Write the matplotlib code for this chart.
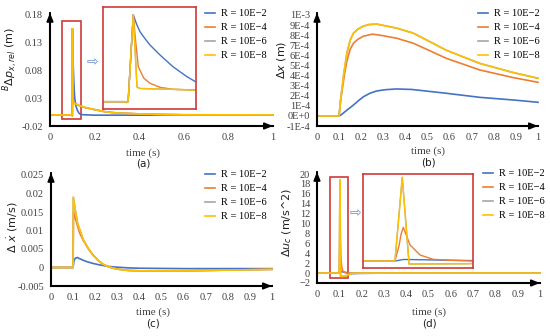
import matplotlib
matplotlib.use('Agg')
import matplotlib.pyplot as plt
from matplotlib.patches import Rectangle
from matplotlib.lines import Line2D

W, H = 550, 336
labels = ['R = 10E\u22122', 'R = 10E\u22124', 'R = 10E\u22126', 'R = 10E\u22128']
colors = ['#4472C4', '#ED7D31', '#A5A5A5', '#FFC000']
serif = 'Liberation Serif'

# (a) relative position, m
ta_blue = [0, 0.0995, 0.09976, 0.1, 0.10076, 0.10125, 0.10175, 0.1025, 0.10322, 0.1047, 0.10661, 0.10867, 0.11,
           0.112, 0.117, 0.123, 0.13, 0.14, 0.2, 1]
a_blue = [0, 0, -0.0015, 0, 0.155, 0.138, 0.1246, 0.112, 0.1009, 0.0831, 0.0622, 0.0444, 0.035,
          0.027, 0.015, 0.008, 0.003, 0.0005, -0.0005, -0.0005]
ta_orange = [0, 0.0995, 0.09976, 0.1, 0.10076, 0.10109, 0.1015, 0.1023, 0.10322, 0.1047, 0.10661, 0.11,
             0.12, 0.13, 0.16, 0.2, 0.25, 0.3, 0.4, 0.5, 0.6, 1]
a_orange = [0, 0, -0.0015, 0, 0.155, 0.1098, 0.0622, 0.042, 0.0327, 0.0255, 0.022, 0.0207,
            0.019, 0.017, 0.013, 0.0095, 0.0055, 0.0035, 0.0018, 0.0008, 0.0002, 0]
ta_yellow = [0, 0.0995, 0.09976, 0.1, 0.10076, 0.10131, 0.10175, 0.1047, 0.11,
             0.12, 0.13, 0.16, 0.2, 0.25, 0.3, 0.4, 0.5, 0.6, 1]
a_yellow = [0, 0, -0.0015, 0, 0.155, 0.0261, 0.0234, 0.0225, 0.0207,
            0.019, 0.017, 0.013, 0.0095, 0.0055, 0.0035, 0.0018, 0.0008, 0.0002, 0]
ta_gray, a_gray = ta_yellow, a_yellow

# (b) displacement, m
tb_blue = [0, 0.1, 0.11, 0.12, 0.14, 0.165, 0.19, 0.21, 0.24, 0.27, 0.31, 0.36, 0.43, 0.586, 0.737, 0.887, 1]
b_blue = [0, 0, 0.12e-4, 0.3e-4, 0.65e-4, 1.08e-4, 1.55e-4, 1.9e-4, 2.25e-4, 2.47e-4, 2.6e-4, 2.67e-4, 2.62e-4,
          2.24e-4, 1.84e-4, 1.58e-4, 1.35e-4]
tb_orange = [0, 0.1, 0.105, 0.11, 0.115, 0.125, 0.135, 0.15, 0.165, 0.185, 0.21, 0.25, 0.285, 0.36, 0.436,
             0.586, 0.737, 0.887, 1]
b_orange = [0, 0, 1.1e-4, 2.0e-4, 2.7e-4, 4.2e-4, 5.4e-4, 6.6e-4, 7.2e-4, 7.6e-4, 7.9e-4, 8.1e-4, 8.0e-4,
            7.7e-4, 7.2e-4, 5.7e-4, 4.55e-4, 3.8e-4, 3.33e-4]
tb_yellow = [0, 0.1, 0.105, 0.11, 0.115, 0.12, 0.135, 0.15, 0.165, 0.185, 0.21, 0.235, 0.27, 0.36, 0.436,
             0.586, 0.737, 0.887, 1]
b_yellow = [0, 0, 1.2e-4, 2.2e-4, 3.0e-4, 4.0e-4, 6.2e-4, 7.5e-4, 8.2e-4, 8.6e-4, 8.9e-4, 9.05e-4, 9.1e-4,
            8.7e-4, 8.2e-4, 6.5e-4, 5.2e-4, 4.3e-4, 3.73e-4]
tb_gray, b_gray = tb_yellow, b_yellow

# (c) velocity, m/s
tc_blue = [0, 0.1, 0.104, 0.11, 0.119, 0.14, 0.161, 0.19, 0.22, 0.26, 0.296, 0.35, 0.4, 0.6, 1]
c_blue = [0, 0, 0.0019, 0.0025, 0.0027, 0.0021, 0.0016, 0.0011, 0.0007, 0.0003, 0.0001, -0.0001, -0.0002, -0.0003, -0.0003]
tc_orange = [0, 0.1, 0.102, 0.11, 0.12, 0.13, 0.146, 0.17, 0.19, 0.215, 0.235, 0.26, 0.296, 0.35, 0.4, 0.6, 0.8, 1]
c_orange = [0, 0, 0.0151, 0.0133, 0.0112, 0.0093, 0.0073, 0.005, 0.0034, 0.0018, 0.0009, 0.0002, -0.0004, -0.0008, -0.0009, -0.0009, -0.0007, -0.0005]
tc_yellow = [0, 0.1, 0.101, 0.11, 0.12, 0.146, 0.17, 0.19, 0.215, 0.235, 0.26, 0.296, 0.35, 0.4, 0.6, 0.8, 1]
c_yellow = [0, 0, 0.019, 0.0155, 0.012, 0.0075, 0.005, 0.0034, 0.0018, 0.0009, 0.0002, -0.0004, -0.0008, -0.0009, -0.0009, -0.0007, -0.0005]
tc_gray, c_gray = tc_yellow, c_yellow

# (d) control acceleration, m/s^2
td_blue = [0, 0.1, 0.1034, 0.11, 0.12, 0.132, 0.15, 0.2, 0.3, 1]
d_blue = [0, 0, 0.35, 0.3, 0.2, 0.1, -0.1, -0.05, 0, 0]
td_orange = [0, 0.1, 0.1017, 0.1025, 0.1034, 0.1043, 0.1062, 0.1103, 0.1156, 0.1226, 0.132, 1]
d_orange = [0, 0, 3.5, 6.0, 7.57, 6.3, 3.6, 1.36, 0.39, 0.17, 0, 0]
td_yellow = [0, 0.1, 0.103, 0.1058, 0.13, 0.14, 0.16, 0.2, 1]
d_yellow = [0, 0, 18.8, -0.665, -0.6, -0.3, -0.05, 0, 0]
td_gray, d_gray = td_yellow, d_yellow

fig = plt.figure(figsize=(W / 100, H / 100), dpi=100)


def axes_px(l, t, r, b):
    return fig.add_axes([l / W, 1 - b / H, (r - l) / W, (b - t) / H])


def style(ax):
    for s in ['top', 'right']:
        ax.spines[s].set_visible(False)
    for s in ['left', 'bottom']:
        ax.spines[s].set_linewidth(1.5)
    ax.tick_params(length=0, labelsize=7.5, pad=5)
    for lab in ax.get_xticklabels() + ax.get_yticklabels():
        lab.set_fontfamily(serif)
        lab.set_color('#404040')
    ax.annotate('', xy=(1.0, 0), xytext=(0.98, 0), xycoords='axes fraction',
                arrowprops=dict(arrowstyle='-|>,head_length=0.5,head_width=0.2', color='k', lw=1.2))
    ax.annotate('', xy=(0, 1.02), xytext=(0, 0.99), xycoords='axes fraction',
                arrowprops=dict(arrowstyle='-|>,head_length=0.5,head_width=0.2', color='k', lw=1.2))


def draw(ax, series, lw=1.2):
    for (t, v), c in zip(series, colors):
        ax.plot(t, v, color=c, lw=lw, clip_on=False)


def legend(x, y):
    handles = [Line2D([], [], color=c, lw=1.2) for c in colors]
    fig.legend(handles, labels, loc='upper left', bbox_to_anchor=(x / W, 1 - y / H),
               frameon=False, borderpad=0, borderaxespad=0, handlelength=1.0,
               handletextpad=0.5, labelspacing=0.45, prop={'family': serif, 'size': 7.5})


def ylabel(x, y, text):
    fig.text(x / W, 1 - y / H, text, rotation=90, ha='center', va='center', size=8, color='#202020')


def captions(x, y, letter):
    fig.text(x / W, 1 - y / H, 'time (s)', ha='center', va='center', family=serif, size=8, color='#404040')
    fig.text(x / W, 1 - (y + 11) / H, letter, ha='center', va='center', size=7.5, color='#202020')


def zoom_box(ax, x0, x1, y0, y1):
    ax.add_patch(Rectangle((x0, y0), x1 - x0, y1 - y0, fill=False, ec='#D03A3A', lw=1.2, clip_on=False))


def inset(l, t, r, b, series, xlim, ylim):
    ia = axes_px(l, t, r, b)
    draw(ia, series, lw=1.0)
    ia.set_xlim(xlim)
    ia.set_ylim(ylim)
    ia.set_xticks([])
    ia.set_yticks([])
    for s in ia.spines.values():
        s.set_color('#D03A3A')
        s.set_linewidth(1.2)
    for ln in ia.lines:
        ln.set_clip_on(True)
    return ia


xt10 = [i / 10 for i in range(11)]
xl10 = ['0'] + ['0.%d' % i for i in range(1, 10)] + ['1']

# (a)
sa = [(ta_blue, a_blue), (ta_orange, a_orange), (ta_gray, a_gray), (ta_yellow, a_yellow)]
ax = axes_px(50, 15, 273, 126)
draw(ax, sa)
ax.set_xlim(0, 1)
ax.set_ylim(-0.02, 0.18)
ax.set_yticks([-0.02, 0.03, 0.08, 0.13, 0.18], ['-0.02', '0.03', '0.08', '0.13', '0.18'])
ax.set_xticks([0, 0.2, 0.4, 0.6, 0.8, 1], ['0', '0.2', '0.4', '0.6', '0.8', '1'])
style(ax)
ylabel(10, 59, r'$^{B}\Delta p_{x,rel}$ (m)')
zoom_box(ax, 0.055, 0.138, -0.0074, 0.169)
fig.text(92 / W, 1 - 62 / H, '\u21e8', ha='center', va='center', size=10, color='#6F8FC8')
inset(103, 7, 196, 109, sa, (0.0963, 0.110), (-0.0131, 0.1686))
legend(205, 9)
captions(143, 153, '(a)')

# (b)
sb = [(tb_blue, b_blue), (tb_orange, b_orange), (tb_gray, b_gray), (tb_yellow, b_yellow)]
ax = axes_px(317, 15, 538, 126)
draw(ax, sb)
ax.set_xlim(0, 1)
ax.set_ylim(-1e-4, 1e-3)
yt = [-1e-4, 0, 1e-4, 2e-4, 3e-4, 4e-4, 5e-4, 6e-4, 7e-4, 8e-4, 9e-4, 1e-3]
ax.set_yticks(yt, ['-1E-4', '0E+0', '1E-4', '2E-4', '3E-4', '4E-4', '5E-4', '6E-4', '7E-4', '8E-4', '9E-4', '1E-3'])
ax.set_xticks(xt10, xl10)
style(ax)
ylabel(282, 60, r'$\Delta x$ (m)')
legend(478, 9)
captions(428, 151, '(b)')

# (c)
sc = [(tc_blue, c_blue), (tc_orange, c_orange), (tc_gray, c_gray), (tc_yellow, c_yellow)]
ax = axes_px(51, 175, 272, 286)
draw(ax, sc)
ax.set_xlim(0, 1)
ax.set_ylim(-0.005, 0.025)
ax.set_yticks([-0.005, 0, 0.005, 0.01, 0.015, 0.02, 0.025],
              ['-0.005', '0', '0.005', '0.01', '0.015', '0.02', '0.025'])
ax.set_xticks(xt10, xl10)
style(ax)
ylabel(13, 227, r'$\Delta\ \dot{x}$ (m/s)')
legend(205, 170)
captions(153, 312, '(c)')

# (d)
sd = [(td_blue, d_blue), (td_orange, d_orange), (td_gray, d_gray), (td_yellow, d_yellow)]
ax = axes_px(317, 174, 540, 283)
draw(ax, sd)
ax.set_xlim(0, 1)
ax.set_ylim(-2, 20)
ax.set_yticks(range(-2, 21, 2))
ax.set_xticks(xt10, xl10)
style(ax)
ylabel(287, 222, r'$\Delta u_c$ (m/s^2)')
zoom_box(ax, 0.06, 0.14, -1.05, 19.4)
fig.text(355 / W, 1 - 213 / H, '\u21e8', ha='center', va='center', size=10, color='#6F8FC8')
inset(362.5, 174, 473.5, 268.3, sd, (0.0867, 0.1322), (-1.63, 19.54))
legend(483, 169)
captions(429, 312, '(d)')

fig.savefig('out.png', dpi=100)
